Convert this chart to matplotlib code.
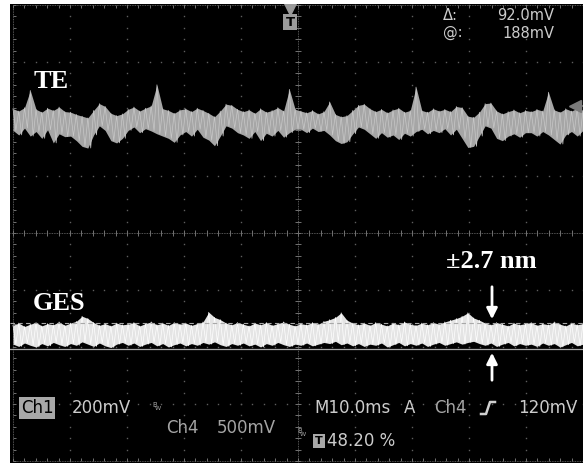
import numpy as np
import matplotlib
matplotlib.use("Agg")
from matplotlib import pyplot as plt

# trace envelopes in divisions (200 mV/div), 100 samples across 10 divisions
te_hi = [2.18, 2.14, 2.20, 2.50, 2.17, 2.12, 2.19, 2.15, 2.21, 2.13,
         2.12, 2.08, 2.05, 2.02, 2.15, 2.27, 2.22, 2.10, 2.06, 2.09,
         2.17, 2.21, 2.14, 2.19, 2.23, 2.60, 2.18, 2.15, 2.10, 2.16,
         2.18, 2.13, 2.19, 2.15, 2.10, 2.04, 2.14, 2.26, 2.24, 2.17,
         2.13, 2.16, 2.10, 2.18, 2.12, 2.15, 2.20, 2.14, 2.52, 2.17,
         2.14, 2.11, 2.15, 2.09, 2.13, 2.30, 2.08, 2.04, 2.06, 2.15,
         2.24, 2.26, 2.18, 2.13, 2.17, 2.11, 2.16, 2.19, 2.12, 2.15,
         2.56, 2.15, 2.12, 2.18, 2.14, 2.17, 2.13, 2.22, 2.20, 2.05,
         2.03, 2.12, 2.27, 2.28, 2.14, 2.09, 2.13, 2.16, 2.11, 2.15,
         2.13, 2.17, 2.14, 2.47, 2.16, 2.12, 2.18, 2.14, 2.19, 2.15]
te_lo = [1.80, 1.72, 1.84, 1.70, 1.78, 1.66, 1.81, 1.58, 1.74, 1.69,
         1.70, 1.62, 1.52, 1.49, 1.72, 1.88, 1.80, 1.62, 1.58, 1.66,
         1.80, 1.86, 1.76, 1.83, 1.79, 1.74, 1.70, 1.66, 1.59, 1.72,
         1.78, 1.70, 1.82, 1.68, 1.63, 1.53, 1.70, 1.88, 1.84, 1.76,
         1.72, 1.66, 1.78, 1.62, 1.75, 1.70, 1.80, 1.68, 1.76, 1.82,
         1.82, 1.76, 1.84, 1.78, 1.80, 1.72, 1.62, 1.57, 1.60, 1.74,
         1.86, 1.82, 1.74, 1.66, 1.76, 1.68, 1.72, 1.64, 1.75, 1.70,
         1.78, 1.82, 1.74, 1.80, 1.76, 1.83, 1.72, 1.82, 1.66, 1.50,
         1.52, 1.70, 1.88, 1.84, 1.66, 1.62, 1.70, 1.74, 1.68, 1.76,
         1.76, 1.70, 1.78, 1.72, 1.64, 1.56, 1.72, 1.78, 1.70, 1.80]

ges_hi = [-1.62, -1.58, -1.64, -1.60, -1.57, -1.63, -1.59, -1.61, -1.56, -1.62,
          -1.58, -1.55, -1.46, -1.50, -1.57, -1.62, -1.59, -1.63, -1.58, -1.61,
          -1.60, -1.57, -1.63, -1.59, -1.56, -1.61, -1.58, -1.62, -1.57, -1.60,
          -1.58, -1.62, -1.59, -1.56, -1.39, -1.48, -1.52, -1.58, -1.61, -1.57,
          -1.60, -1.63, -1.58, -1.61, -1.57, -1.62, -1.59, -1.56, -1.60, -1.63,
          -1.59, -1.61, -1.57, -1.60, -1.55, -1.52, -1.48, -1.40, -1.53, -1.58,
          -1.61, -1.58, -1.62, -1.57, -1.60, -1.63, -1.58, -1.61, -1.56, -1.60,
          -1.62, -1.58, -1.61, -1.57, -1.60, -1.56, -1.53, -1.50, -1.46, -1.40,
          -1.49, -1.53, -1.58, -1.61, -1.57, -1.60, -1.63, -1.58, -1.61, -1.59,
          -1.57, -1.62, -1.59, -1.61, -1.56, -1.60, -1.63, -1.58, -1.61, -1.59]
ges_lo = [-1.95, -1.99, -1.93, -1.97, -2.00, -1.94, -1.98, -1.92, -1.96, -1.99,
          -1.94, -1.97, -1.91, -1.95, -1.99, -1.93, -1.98, -2.01, -1.95, -1.92,
          -1.97, -1.93, -1.99, -1.95, -1.92, -1.98, -1.94, -2.00, -1.96, -1.93,
          -1.98, -1.94, -1.97, -1.92, -1.95, -1.91, -1.96, -1.99, -1.94, -1.97,
          -1.93, -1.98, -1.95, -2.00, -1.94, -1.97, -1.92, -1.96, -1.99, -1.95,
          -1.97, -1.93, -1.98, -1.95, -1.92, -1.94, -1.90, -1.96, -1.93, -1.98,
          -1.94, -1.99, -1.95, -1.97, -1.93, -2.00, -1.96, -1.92, -1.98, -1.94,
          -1.97, -1.93, -1.99, -1.95, -1.92, -1.97, -1.94, -1.91, -1.95, -1.92,
          -1.90, -1.94, -1.97, -1.93, -1.99, -1.95, -1.92, -1.98, -1.94, -1.97,
          -1.95, -1.99, -1.93, -1.97, -1.94, -2.00, -1.96, -1.92, -1.98, -1.95]

cursor_levels = [-1.575, -2.035]


def X(px):
    return (px - 13) / 57.0


def Y(py):
    return (233 - py) / 57.0


def trace(ax, hi, lo, fill, line):
    xs = np.linspace(0, 10, len(hi))
    ax.fill_between(xs, lo, hi, color=fill, lw=0, zorder=3)
    half = (xs[1] - xs[0]) / 2
    zx = np.ravel(np.column_stack([xs, xs + half]))[:-1]
    zy = np.ravel(np.column_stack([hi, lo]))[:-1]
    ax.plot(zx, zy, color=line, lw=0.5, zorder=4)


fig = plt.figure(figsize=(5.83, 4.63), dpi=100)
ax = fig.add_axes([10 / 583, 0, 573 / 583, 459 / 463])
ax.set_facecolor("black")
ax.set_xlim(X(10), X(583))
ax.set_ylim(Y(463), Y(4))
ax.set_xticks([])
ax.set_yticks([])
for s in ax.spines.values():
    s.set_visible(False)

# graticule
fine = np.arange(0, 10.01, 0.2)
vfine = np.arange(-4, 4.01, 0.2)
dot = "#5e5e5e"
for k in range(1, 10):
    if k != 5:
        ax.plot(np.full_like(vfine, k), vfine, ls="none", marker="s", ms=1.0, mew=0, color=dot, zorder=1)
for j in range(-3, 4):
    if j != 0:
        ax.plot(fine, np.full_like(fine, j), ls="none", marker="s", ms=1.0, mew=0, color=dot, zorder=1)
gc = "#727272"
ax.axhline(0, color=gc, lw=0.6, ls=(0, (1, 1)), zorder=1)
ax.axvline(5, color=gc, lw=0.6, ls=(0, (1, 1)), zorder=1)
ax.vlines(fine, -0.06, 0.06, color=gc, lw=0.7, zorder=1)
ax.hlines(vfine, 4.95, 5.05, color=gc, lw=0.7, zorder=1)
ax.plot([0, 0], [-4, 4], color=gc, lw=0.6, ls=(0, (1, 1)), zorder=1)
ax.hlines(vfine, 0, 0.06, color=gc, lw=0.7, zorder=1)
ax.plot([0, 10], [4, 4], color=gc, lw=0.6, ls=(0, (1, 1)), zorder=1)
ax.vlines(fine, 3.94, 4.0, color=gc, lw=0.7, zorder=1)
ax.plot([0, 10], [-4, -4], color=gc, lw=0.6, ls=(0, (1, 1)), zorder=1)
ax.vlines(fine, -4.0, -3.94, color=gc, lw=0.7, zorder=1)

# traces
trace(ax, te_hi, te_lo, "#a6a6a6", "#c8c8c8")
trace(ax, ges_hi, ges_lo, "#e4e4e4", "#ffffff")

# cursors
ax.axhline(cursor_levels[0], color="#a8a8a8", lw=0.8, ls=(0, (4, 3)), zorder=5)
ax.axhline(cursor_levels[1], color="#a8a8a8", lw=0.9, zorder=5)

# markers
ax.plot(X(290), Y(9), marker="v", ms=8, color="#9a9a9a", zorder=6)
ax.text(X(290), Y(22), "T", ha="center", va="center", fontsize=9.5, weight="bold", color="black",
        bbox=dict(boxstyle="square,pad=0.15", fc="#9a9a9a", ec="none"), zorder=6)
ax.plot(X(575), Y(106), marker="<", ms=9, color="#7a7a7a", zorder=6)
ax.plot([X(576), X(583)], [Y(106), Y(106)], color="#7a7a7a", lw=1.2, zorder=6)

# labels
serif = dict(family="Liberation Serif", weight="bold", color="white", fontsize=19, va="center", ha="left")
ax.text(X(34), Y(82), "TE", **serif)
ax.text(X(33), Y(304), "GES", **serif)
ax.text(X(446), Y(262), "±2.7 nm", **serif)
ax.annotate("", xy=(X(492), Y(322)), xytext=(X(492), Y(284)),
            arrowprops=dict(arrowstyle="-|>", color="white", lw=2, mutation_scale=16), zorder=7)
ax.annotate("", xy=(X(492), Y(350)), xytext=(X(492), Y(383)),
            arrowprops=dict(arrowstyle="-|>", color="white", lw=2, mutation_scale=16), zorder=7)

# scope readouts
scope = dict(family="DejaVu Sans", color="#cccccc", fontsize=12, va="center")
dim = dict(scope, color="#a4a4a4")
cur = dict(scope, fontsize=10.5)
ax.text(X(443), Y(16), "\u0394:", ha="left", **cur)
ax.text(X(554), Y(16), "92.0mV", ha="right", **cur)
ax.text(X(443), Y(33), "@:", ha="left", **cur)
ax.text(X(554), Y(33), "188mV", ha="right", **cur)

ax.text(X(21), Y(408), "Ch1", ha="left", family="DejaVu Sans", fontsize=12, va="center", color="black",
        bbox=dict(boxstyle="square,pad=0.1", fc="#a8a8a8", ec="none"), zorder=6)
ax.text(X(72), Y(408), "200mV", ha="left", **scope)
ax.text(X(152), Y(405), "B", ha="left", fontsize=5, color="#a4a4a4", va="center")
ax.text(X(155), Y(409), "W", ha="left", fontsize=4.5, color="#a4a4a4", va="center")
ax.text(X(166), Y(428), "Ch4", ha="left", **dim)
ax.text(X(217), Y(428), "500mV", ha="left", **dim)
ax.text(X(297), Y(431), "B", ha="left", fontsize=5, color="#a4a4a4", va="center")
ax.text(X(300), Y(435), "W", ha="left", fontsize=4.5, color="#a4a4a4", va="center")
ax.text(X(314), Y(408), "M10.0ms", ha="left", **scope)
ax.text(X(404), Y(408), "A", ha="left", **scope)
ax.text(X(434), Y(408), "Ch4", ha="left", **dim)
ax.plot([X(481), X(486), X(490), X(495)], [Y(414), Y(414), Y(402), Y(402)], color="#d0d0d0", lw=1.8, zorder=6)
ax.text(X(578), Y(408), "120mV", ha="right", **scope)
ax.text(X(319), Y(441), "T", ha="center", va="center", fontsize=8, weight="bold", color="black",
        bbox=dict(boxstyle="square,pad=0.15", fc="#a8a8a8", ec="none"), zorder=6)
ax.text(X(327), Y(441), "48.20 %", ha="left", **scope)

fig.savefig("out.png", dpi=100, facecolor="white")
plt.close(fig)
